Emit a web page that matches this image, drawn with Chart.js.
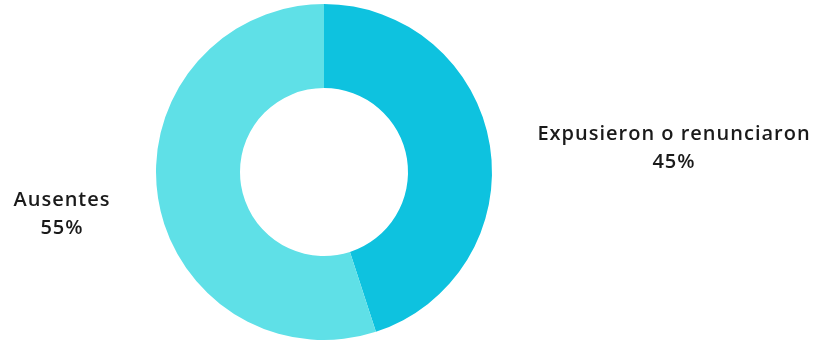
<!DOCTYPE html>
<html>
<head>
<meta charset="utf-8">
<script src="https://cdn.jsdelivr.net/npm/chart.js@4.4.1/dist/chart.umd.min.js"></script>
<style>
  html, body { margin: 0; padding: 0; background: #fff; }
  #wrap { width: 824px; height: 347px; position: relative; }
</style>
</head>
<body>
<div id="wrap"><canvas id="chart"></canvas></div>
<script>
const categories = ['Expusieron o renunciaron', 'Ausentes'];
const shares = [45, 55];
const sliceColors = ['#0ec2df', '#5fe0e7'];

// writes each category name and its percentage beside its slice
const sideLabels = {
  id: 'sideLabels',
  afterDraw(chart) {
    const ctx = chart.ctx;
    const meta = chart.getDatasetMeta(0);
    ctx.save();
    ctx.font = '600 20px "Open Sans", sans-serif';
    ctx.letterSpacing = '1px';
    ctx.fillStyle = '#1a1a1a';
    ctx.textAlign = 'center';
    ctx.textBaseline = 'middle';
    meta.data.forEach((arc, i) => {
      const mid = (arc.startAngle + arc.endAngle) / 2;
      const right = Math.cos(mid) > 0;
      const x = right ? arc.x + 350 : arc.x - 262;
      const y = arc.y + Math.sin(mid) * arc.outerRadius + (right ? 3 : 16);
      ctx.fillText(categories[i], x, y - 14);
      ctx.fillText(shares[i] + '%', x, y + 14);
    });
    ctx.restore();
  }
};

new Chart(document.getElementById('chart'), {
  type: 'doughnut',
  data: {
    labels: categories,
    datasets: [{
      data: shares,
      backgroundColor: sliceColors,
      borderWidth: 0,
      hoverOffset: 0
    }]
  },
  options: {
    responsive: true,
    maintainAspectRatio: false,
    animation: false,
    cutout: '50%',
    layout: { padding: { left: 0, right: 176, top: 4, bottom: 7 } },
    plugins: {
      legend: { display: false },
      tooltip: { enabled: false }
    }
  },
  plugins: [sideLabels]
});
</script>
</body>
</html>
